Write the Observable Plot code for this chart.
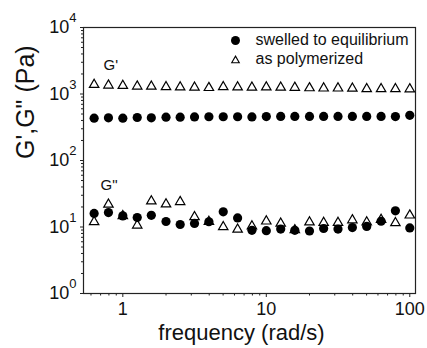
<!DOCTYPE html>
<html><head><meta charset="utf-8">
<script src="https://cdn.jsdelivr.net/npm/d3@7"></script>
<script src="https://cdn.jsdelivr.net/npm/@observablehq/plot@0.6"></script>
<style>html,body{margin:0;padding:0;background:#fff}</style>
</head><body><div id="chart"></div>
<script>
// frequency (rad/s)
const freq = [0.631, 0.794, 1, 1.26, 1.58, 2, 2.51, 3.16, 3.98, 5.01, 6.31, 7.94, 10, 12.6, 15.8, 20, 25.1, 31.6, 39.8, 50.1, 63.1, 79.4, 100];
// G' (Pa)
const gp_swelled = [433, 438, 433, 443, 438, 448, 448, 452, 455, 455, 455, 452, 457, 460, 460, 460, 460, 460, 460, 460, 460, 457, 478];
const gp_polymerized = [1380, 1350, 1335, 1305, 1300, 1280, 1265, 1255, 1240, 1280, 1265, 1255, 1265, 1255, 1250, 1230, 1220, 1220, 1215, 1190, 1190, 1190, 1185];
// G'' (Pa)
const gpp_swelled = [16.0, 16.5, 14.7, 13.9, 15.0, 12.1, 10.9, 11.3, 12.0, 16.9, 13.7, 8.9, 8.8, 9.3, 8.9, 8.7, 9.5, 9.3, 9.8, 10.2, 12.2, 17.5, 9.7];
const gpp_polymerized = [11.9, 21.8, 14.7, 10.6, 24.5, 22.0, 23.9, 14.2, 12.0, 10.0, 9.2, 10.3, 12.2, 11.3, 9.0, 11.8, 11.6, 11.6, 12.7, 11.8, 12.9, 11.5, 15.0];

const seriesNames = ["swelled to equilibrium", "as polymerized"];
const annoText = ["G'", "G\""];
const annoX = [0.734, 0.699];
const annoY = [2320, 36];

const xMajor = [1, 10, 100];
const xMinor = [0.6, 0.7, 0.8, 0.9, 2, 3, 4, 5, 6, 7, 8, 9, 20, 30, 40, 50, 60, 70, 80, 90];
const yMajor = [1, 10, 100, 1000, 10000];
const yMinor = [];
for (const d of [1, 10, 100, 1000]) for (const m of [2,3,4,5,6,7,8,9]) yMinor.push(d * m);

const swelled = freq.flatMap((f, i) => [{f, v: gp_swelled[i]}, {f, v: gpp_swelled[i]}]);
const polymerized = freq.flatMap((f, i) => [{f, v: gp_polymerized[i]}, {f, v: gpp_polymerized[i]}]);
const annos = annoText.map((t, i) => ({t, x: annoX[i], y: annoY[i]}));

const font = "'Liberation Sans', Arial, Helvetica, sans-serif";
const chart = Plot.plot({
  width: 427, height: 348,
  marginLeft: 83, marginRight: 12, marginTop: 27, marginBottom: 55,
  style: {fontFamily: font, background: "white", color: "#111", overflow: "visible"},
  x: {type: "log", domain: [0.532, 109.6]},
  y: {type: "log", domain: [1, 10000]},
  marks: [
    Plot.axisX(xMinor, {tickSize: 2.5, tickFormat: () => "", label: null, stroke: "#222"}),
    Plot.axisX(xMajor, {tickSize: 4, tickPadding: 5, fontSize: 18, tickFormat: d => String(d), label: null, stroke: "#222"}),
    Plot.axisY(yMinor, {tickSize: 2, tickFormat: () => "", label: null, stroke: "#222"}),
    Plot.axisY(yMajor, {tickSize: 3, tickPadding: 4, fontSize: 18, tickFormat: d => "10^" + Math.round(Math.log10(d)), label: null, stroke: "#222"}),
    Plot.frame({stroke: "#222", strokeWidth: 1.2}),
    Plot.dot(swelled, {x: "f", y: "v", r: 4.6, fill: "black", stroke: "none"}),
    Plot.dot(polymerized, {x: "f", y: "v", r: 3.5, symbol: "triangle", fill: "none", stroke: "black", strokeWidth: 1.2}),
    Plot.text(annos, {x: "x", y: "y", text: "t", textAnchor: "start", lineAnchor: "bottom", fontSize: 15, fill: "#111"}),
    // legend
    Plot.dot([seriesNames[0]], {frameAnchor: "top-left", dx: 152, dy: 13, r: 4.5, fill: "black", stroke: "none"}),
    Plot.dot([seriesNames[1]], {frameAnchor: "top-left", dx: 152, dy: 33, r: 2.8, symbol: "triangle", fill: "none", stroke: "black", strokeWidth: 1.1}),
    Plot.text([seriesNames[0]], {frameAnchor: "top-left", dx: 172, dy: 17, text: d => d, textAnchor: "start", lineAnchor: "bottom", fontSize: 16, fill: "#111"}),
    Plot.text([seriesNames[1]], {frameAnchor: "top-left", dx: 172, dy: 36, text: d => d, textAnchor: "start", lineAnchor: "bottom", fontSize: 16, fill: "#111"}),
    // axis titles
    Plot.text(["frequency (rad/s)"], {frameAnchor: "bottom", dx: -8, dy: 46.5, text: d => d, lineAnchor: "bottom", fontSize: 22, fill: "#111", ariaLabel: "xtitle"}),
    Plot.text(["G',G\" (Pa)"], {frameAnchor: "left", dx: -50, dy: -1.5, rotate: -90, text: d => d, lineAnchor: "bottom", fontSize: 25, fill: "#111", ariaLabel: "ytitle"})
  ]
});

const sel = d3.select(chart);
sel.selectAll('g[aria-label="y-axis tick label"] text').each(function() {
  const t = this.textContent;
  if (!t.startsWith("10^")) return;
  const e = t.slice(3);
  this.textContent = "10";
  d3.select(this).append("tspan").attr("dy", "-11").attr("font-size", "13px").text(e);
});
sel.selectAll('g[aria-label="xtitle"] text').attr("textLength", 215).attr("lengthAdjust", "spacingAndGlyphs");
sel.selectAll('g[aria-label="ytitle"] text').attr("textLength", 127).attr("lengthAdjust", "spacingAndGlyphs");

document.getElementById("chart").appendChild(chart);
</script>
</body></html>
